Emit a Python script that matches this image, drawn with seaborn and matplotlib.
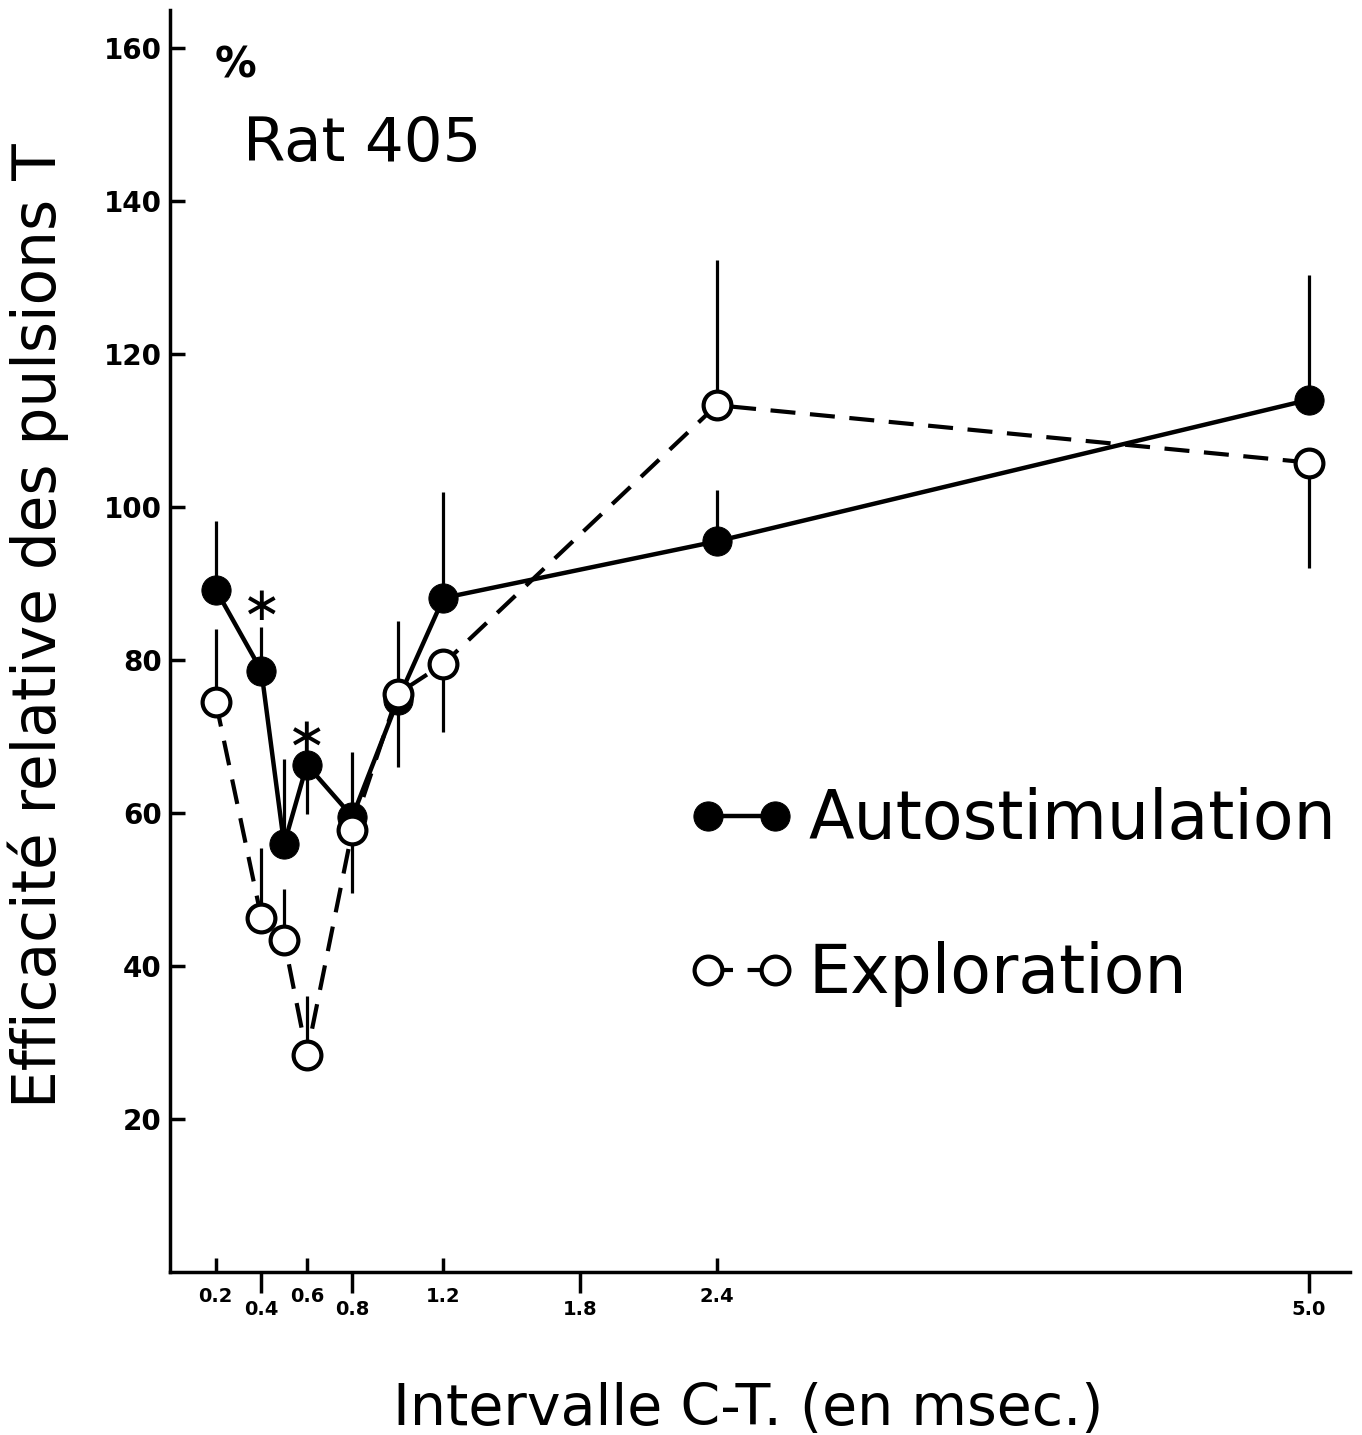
import numpy as np
import pandas as pd
import matplotlib
matplotlib.use("Agg")
import matplotlib.pyplot as plt
import seaborn as sns

# intervalle C-T (msec) and relative efficacy (%)
interval = [0.2, 0.4, 0.5, 0.6, 0.8, 1.0, 1.2, 2.4, 5.0]
auto_vals = [89.2, 78.6, 55.9, 66.3, 59.5, 74.8, 88.1, 95.5, 114.0]
expl_vals = [74.5, 46.3, 43.4, 28.4, 57.8, 75.6, 79.5, 113.3, 105.8]
# one-sided error bars: value where each bar ends
auto_err_end = [98.1, 84.3, 67.0, 59.8, 68.0, 85.1, 102.0, 102.2, 130.3]
expl_err_end = [84.1, 55.4, 50.1, 36.1, 49.6, 66.0, 70.6, 132.3, 92.0]
# significant differences (autostimulation)
signif_x = [0.4, 0.6]

xticks_in = [0.2, 0.6, 1.2, 2.4]
xticks_out = [0.4, 0.8, 1.8, 5.0]
yticks = [20, 40, 60, 80, 100, 120, 140, 160]

df = pd.DataFrame({"interval": interval, "auto": auto_vals, "expl": expl_vals,
                   "auto_end": auto_err_end, "expl_end": expl_err_end})

sns.set_theme(style="ticks")
plt.rcParams['font.family'] = ['DejaVu Sans']
plt.rcParams['xtick.direction'] = 'in'
plt.rcParams['ytick.direction'] = 'in'
for key in ['text.color', 'axes.labelcolor', 'xtick.color', 'ytick.color',
            'xtick.labelcolor', 'ytick.labelcolor', 'axes.edgecolor']:
    plt.rcParams[key] = 'black'

fig = plt.figure(figsize=(13.62, 14.35), dpi=100)
ax = fig.add_axes([0.125, 0.1136, 0.866, 0.8797])

# error bars
ax.vlines(df["interval"], df["auto"], df["auto_end"], color="black", lw=2.3, zorder=2)
ax.vlines(df["interval"], df["expl"], df["expl_end"], color="black", lw=2.3, zorder=2)

sns.lineplot(data=df, x="interval", y="auto", ax=ax, color="black", lw=3.2,
             marker="o", markersize=21, markerfacecolor="black", markeredgecolor="black",
             errorbar=None, label="Autostimulation", zorder=3)
sns.lineplot(data=df, x="interval", y="expl", ax=ax, color="black", lw=3.0,
             linestyle=(0, (6, 3.5)), marker="o", markersize=20, markerfacecolor="white",
             markeredgecolor="black", markeredgewidth=3, errorbar=None,
             label="Exploration", zorder=4)

# asterisks above the significant points
for sx in signif_x:
    row = df[df["interval"] == sx].iloc[0]
    if row["auto_end"] > row["auto"]:
        ax.annotate("\u2217", xy=(sx, row["auto_end"]), xytext=(0, 14), textcoords="offset points",
                    ha="center", va="center", fontsize=34)
    else:
        ax.annotate("\u2217", xy=(sx, row["auto"]), xytext=(0, 19), textcoords="offset points",
                    ha="center", va="center", fontsize=34)

ax.set_xlim(0, 5.18)
ax.set_ylim(0, 165)

ax.set_xticks(xticks_in)
ax.set_xticklabels([f"{v:.1f}" for v in xticks_in])
ax.set_xticks(xticks_out, minor=True)
ax.set_xticklabels([f"{v:.1f}" for v in xticks_out], minor=True)

ax.set_yticks(yticks)
ax.set_yticklabels([str(v) for v in yticks])

sns.despine(ax=ax)
for side in ["left", "bottom"]:
    ax.spines[side].set_linewidth(2.5)
    ax.spines[side].set_color("black")

# tick styling after despine so nothing resets it
ax.tick_params(axis="x", which="major", direction="in", length=10, width=2.5, pad=11,
               labelsize=14, colors="black")
ax.tick_params(axis="x", which="minor", direction="out", length=15, width=2.5, pad=5,
               labelsize=14, colors="black")
ax.tick_params(axis="y", which="major", direction="in", length=11, width=2.5, pad=6,
               labelsize=20, colors="black")
for lab in ax.get_xticklabels(which="both") + ax.get_yticklabels():
    lab.set_fontweight("bold")

ax.set_ylabel("Efficacité relative des pulsions T", fontsize=43)
ax.yaxis.set_label_coords(-0.086, 0.512)
ax.set_xlabel("Intervalle C-T. (en msec.)", fontsize=41)
ax.xaxis.set_label_coords(0.49, -0.087)

ax.text(0.055, 0.956, "%", transform=ax.transAxes, fontsize=30, fontweight="bold",
        ha="center", va="center")
ax.text(0.062, 0.893, "Rat 405", transform=ax.transAxes, fontsize=44,
        ha="left", va="center")

handles, labels = ax.get_legend_handles_labels()
ax.legend(handles, labels, loc="center left", bbox_to_anchor=(0.439, 0.297),
          frameon=False, numpoints=2, handlelength=1.6, handletextpad=0.2,
          fontsize=48, labelspacing=1.32, borderpad=0, borderaxespad=0)

fig.savefig("out.png", dpi=100, facecolor="white")
